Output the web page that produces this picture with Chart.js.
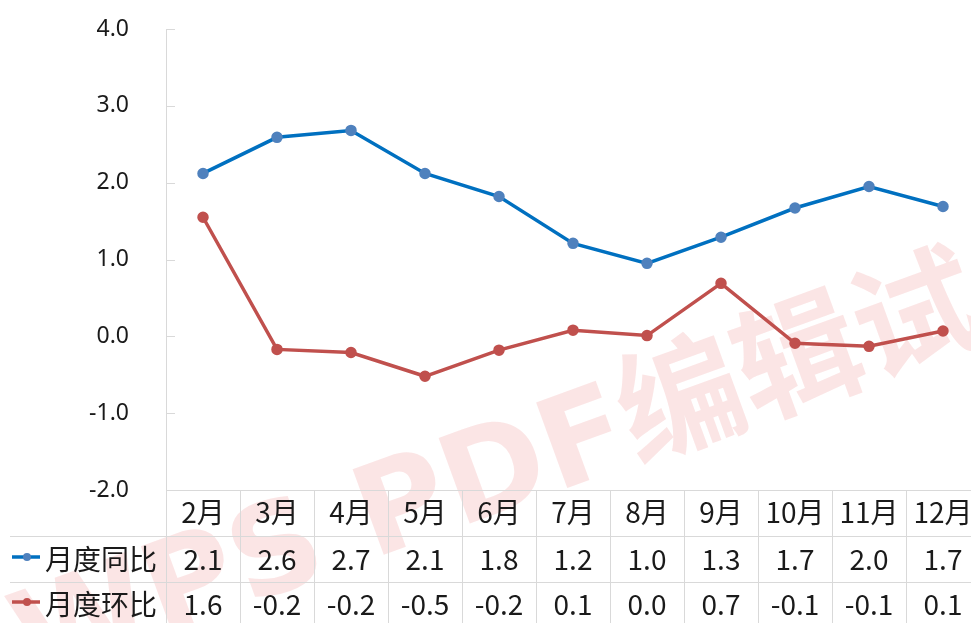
<!DOCTYPE html>
<html>
<head>
<meta charset="utf-8">
<script src="https://cdn.jsdelivr.net/npm/chart.js@4"></script>
<style>
  html, body { margin: 0; padding: 0; background: #fff; overflow: hidden; }
  canvas { display: block; }
</style>
</head>
<body>
<canvas id="myChart" width="990" height="623"></canvas>
<script>
var months = ['2月', '3月', '4月', '5月', '6月', '7月', '8月', '9月', '10月', '11月', '12月']
var seriesNames = ['月度同比', '月度环比']
// values as plotted
var yoyValues = [2.12, 2.59, 2.68, 2.12, 1.82, 1.21, 0.95, 1.29, 1.67, 1.95, 1.69]
var momValues = [1.55, -0.17, -0.21, -0.52, -0.18, 0.08, 0.01, 0.69, -0.09, -0.13, 0.07]
// values as printed in the data table
var yoyTable = ['2.1', '2.6', '2.7', '2.1', '1.8', '1.2', '1.0', '1.3', '1.7', '2.0', '1.7']
var momTable = ['1.6', '-0.2', '-0.2', '-0.5', '-0.2', '0.1', '0.0', '0.7', '-0.1', '-0.1', '0.1']
var yMin = -2
var yMax = 4
var yStep = 1

var blue = '#0070c0'
var blueDot = '#4f81bd'
var red = '#c0504d'
var gridColor = '#d9d9d9'
var textColor = '#1a1a1a'
var tableFont = '28px "Noto Sans CJK SC", "Noto Sans", sans-serif'

var watermark = {
  id: 'watermark',
  beforeDatasetsDraw: function(chart) {
    var ctx = chart.ctx
    ctx.save()
    ctx.translate(978, 304)
    ctx.rotate(-20 * Math.PI / 180)
    ctx.font = 'bold 125px "DejaVu Sans", "Noto Sans CJK SC", sans-serif'
    ctx.fillStyle = 'rgba(230, 100, 100, 0.17)'
    ctx.textAlign = 'right'
    ctx.textBaseline = 'middle'
    ctx.fillText('WPS PDF编辑试', 0, 0)
    ctx.restore()
  }
}

var axisAndTable = {
  id: 'axisAndTable',
  afterDraw: function(chart) {
    var ctx = chart.ctx
    var area = chart.chartArea
    var xs = chart.scales.x
    var ys = chart.scales.y
    var colW = (area.right - area.left) / months.length
    var rows = [area.bottom, 536, 582, 623]

    ctx.save()
    ctx.strokeStyle = gridColor
    ctx.lineWidth = 1

    // y axis line and inner tick marks
    ctx.beginPath()
    ctx.moveTo(area.left + 0.5, area.top)
    ctx.lineTo(area.left + 0.5, 623)
    for (var v = yMin; v <= yMax; v += yStep) {
      var py = Math.round(ys.getPixelForValue(v)) + 0.5
      ctx.moveTo(area.left, py)
      ctx.lineTo(area.left + 9, py)
    }
    // table rows
    ctx.moveTo(area.left, rows[0] + 0.5)
    ctx.lineTo(area.right, rows[0] + 0.5)
    ctx.moveTo(10, rows[1] + 0.5)
    ctx.lineTo(area.right, rows[1] + 0.5)
    ctx.moveTo(10, rows[2] + 0.5)
    ctx.lineTo(area.right, rows[2] + 0.5)
    // table columns
    for (var i = 1; i <= months.length; i++) {
      var px = Math.round(area.left + colW * i) + 0.5
      ctx.moveTo(px, rows[0])
      ctx.lineTo(px, 623)
    }
    ctx.stroke()

    ctx.font = tableFont
    ctx.fillStyle = textColor
    ctx.textAlign = 'center'
    ctx.textBaseline = 'middle'
    var yHead = 512
    var yRow1 = 559
    var yRow2 = 604
    months.forEach(function(m, idx) {
      var cx = xs.getPixelForValue(idx)
      ctx.fillText(m, cx, yHead)
      ctx.fillText(yoyTable[idx], cx, yRow1)
      ctx.fillText(momTable[idx], cx, yRow2)
    })

    // legend keys in first column
    var keys = [[blue, blueDot, yRow1 - 2], [red, red, yRow2 - 2]]
    keys.forEach(function(k, idx) {
      ctx.strokeStyle = k[0]
      ctx.lineWidth = 3.5
      ctx.beginPath()
      ctx.moveTo(12, k[2])
      ctx.lineTo(40, k[2])
      ctx.stroke()
      ctx.fillStyle = k[1]
      ctx.beginPath()
      ctx.arc(27, k[2], 4, 0, Math.PI * 2)
      ctx.fill()
      ctx.fillStyle = textColor
      ctx.textAlign = 'left'
      ctx.fillText(seriesNames[idx], 45, k[2] + 2)
    })
    ctx.restore()
  }
}

var ctx = document.getElementById('myChart')
var myLineChart = new Chart(ctx, {
  type: 'line',
  data: {
    labels: months,
    datasets: [{
      label: seriesNames[0],
      data: yoyValues,
      borderColor: blue,
      borderWidth: 3.5,
      pointBackgroundColor: blueDot,
      pointBorderColor: blueDot,
      pointRadius: 4,
      tension: 0
    }, {
      label: seriesNames[1],
      data: momValues,
      borderColor: red,
      borderWidth: 3.5,
      pointBackgroundColor: red,
      pointBorderColor: red,
      pointRadius: 4,
      tension: 0
    }]
  },
  options: {
    responsive: false,
    animation: false,
    layout: {
      padding: { left: 0, right: 10, top: 29, bottom: 133 }
    },
    plugins: {
      legend: { display: false },
      tooltip: { enabled: false }
    },
    scales: {
      x: {
        display: false,
        offset: true
      },
      y: {
        min: yMin,
        max: yMax,
        afterFit: function(scale) {
          scale.width = 166
        },
        border: { display: false },
        // invisible tick marks only push the labels left
        grid: { drawOnChartArea: false, drawTicks: true, tickLength: 37, tickColor: 'rgba(0,0,0,0)' },
        ticks: {
          stepSize: yStep,
          padding: 0,
          color: textColor,
          font: { family: '"Noto Sans", sans-serif', size: 23 },
          callback: function(v) { return v.toFixed(1) }
        }
      }
    }
  },
  plugins: [watermark, axisAndTable]
})
</script>
</body>
</html>
